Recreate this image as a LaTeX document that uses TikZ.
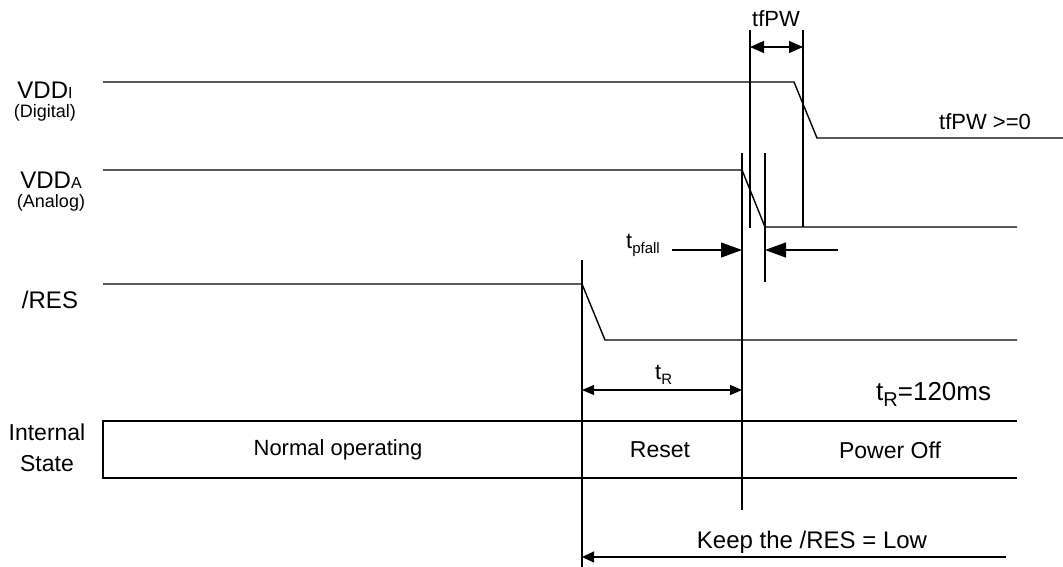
\documentclass[tikz,border=0pt]{standalone}
\usepackage{fontspec}
\setmainfont{Liberation Sans}
\usetikzlibrary{arrows.meta}
\tikzset{
  wave/.style={line width=1.4pt, line join=miter},
  guide/.style={line width=1.2pt},
  lbl/.style={font=\fontsize{22}{26}\selectfont, inner sep=0pt},
  biglbl/.style={font=\fontsize{24}{28}\selectfont, inner sep=0pt},
  slbl/.style={font=\fontsize{18}{21}\selectfont, inner sep=0pt},
  bigtip/.style={-{Triangle[length=21pt,width=15pt]}},
  midtip/.style={{Triangle[length=14pt,width=12pt]}-{Triangle[length=14pt,width=12pt]}},
  smalltip/.style={{Triangle[length=12pt,width=10pt]}-{Triangle[length=12pt,width=10pt]}},
  keeptip/.style={-{Triangle[length=12pt,width=11pt]}}
}
\newcommand{\smallcap}[1]{{\fontsize{16}{16}\selectfont #1}}
\newcommand{\subsc}[1]{\raisebox{-5pt}{\fontsize{15}{15}\selectfont #1}}
\begin{document}
\begin{tikzpicture}[x=1pt,y=-1pt]
\useasboundingbox (0,0) rectangle (1063,567);

% left labels
\node[biglbl] (lvddi) at (45,90) {VDD\smallcap{I}};
\node[slbl] (ldig) at (45,113) {(Digital)};
\node[biglbl] (lvdda) at (51,180) {VDD\smallcap{A}};
\node[slbl] (lana) at (51,203) {(Analog)};
\node[biglbl] (lres) at (50,300) {/RES};
\node[biglbl, align=center, font=\fontsize{23}{31}\selectfont] (lint) at (47,448) {Internal\\State};

% waveforms
\coordinate (a0) at (103,82); \coordinate (a1) at (794,82);
\coordinate (a2) at (817,138); \coordinate (a3) at (1063,138);
\draw[wave] (a0) -- (a1) -- (a2) -- (a3);
\coordinate (b0) at (103,170); \coordinate (b1) at (742,170);
\coordinate (b2) at (765,227); \coordinate (b3) at (1017,227);
\draw[wave] (b0) -- (b1) -- (b2) -- (b3);
\coordinate (c0) at (103,284); \coordinate (c1) at (582,284);
\coordinate (c2) at (605,340); \coordinate (c3) at (1017,340);
\draw[wave] (c0) -- (c1) -- (c2) -- (c3);

% tfPW
\coordinate (f1t) at (750,30); \coordinate (f1b) at (750,228);
\coordinate (f2t) at (803,30); \coordinate (f2b) at (803,227);
\draw[guide] (f1t) -- (f1b);
\draw[guide] (f2t) -- (f2b);
\coordinate (fa1) at (750,47); \coordinate (fa2) at (803,47);
\draw[guide, midtip] (fa1) -- (fa2);
\node[lbl] (ltf) at (776,19) {tfPW};
\node[lbl] (ltf0) at (985,122) {tfPW >=0};

% tpfall
\coordinate (p1t) at (742,153); \coordinate (p1b) at (742,510);
\coordinate (p2t) at (765,153); \coordinate (p2b) at (765,282);
\draw[guide] (p1t) -- (p1b);
\draw[guide] (p2t) -- (p2b);
\coordinate (pa1) at (672,250); \coordinate (pa2) at (742,250);
\coordinate (pb1) at (838,250); \coordinate (pb2) at (765,250);
\draw[guide, bigtip] (pa1) -- (pa2);
\draw[guide, bigtip] (pb1) -- (pb2);
\node[lbl, anchor=base west] (lpf) at (626,248) {t\subsc{pfall}};

% reset vertical and tR
\coordinate (r1t) at (582,260); \coordinate (r1b) at (582,567);
\draw[guide] (r1t) -- (r1b);
\coordinate (ta1) at (582,390); \coordinate (ta2) at (742,390);
\draw[guide, smalltip] (ta1) -- (ta2);
\node[lbl, anchor=base west] (ltr) at (655,379) {t\subsc{R}};
\node[anchor=base west, inner sep=0pt, font=\fontsize{26}{30}\selectfont] (ltr2) at (876,400) {t\raisebox{-6pt}{\fontsize{20}{20}\selectfont R}=120ms};

% internal state box
\coordinate (s1) at (103,421); \coordinate (s2) at (1017,421);
\coordinate (s3) at (103,478); \coordinate (s4) at (1017,478);
\draw[guide] (s2) -- (s1) -- (s3) -- (s4);
\coordinate (d1t) at (582,421); \coordinate (d1b) at (582,478);
\coordinate (d2t) at (742,421); \coordinate (d2b) at (742,478);
\draw[line width=2.2pt] (d1t) -- (d1b);
\draw[line width=2.2pt] (d2t) -- (d2b);
\node[lbl] (snorm) at (338,450) {Normal operating};
\node[font=\fontsize{23}{27}\selectfont, inner sep=0pt] (sreset) at (660,450) {Reset};
\node[font=\fontsize{23}{27}\selectfont, inner sep=0pt] (soff) at (890,450) {Power Off};

% keep low
\coordinate (k1) at (1006,557); \coordinate (k2) at (582,557);
\draw[guide, keeptip] (k1) -- (k2);
\node[biglbl] (lkeep) at (812,542) {Keep the /RES = Low};
\end{tikzpicture}
\end{document}
